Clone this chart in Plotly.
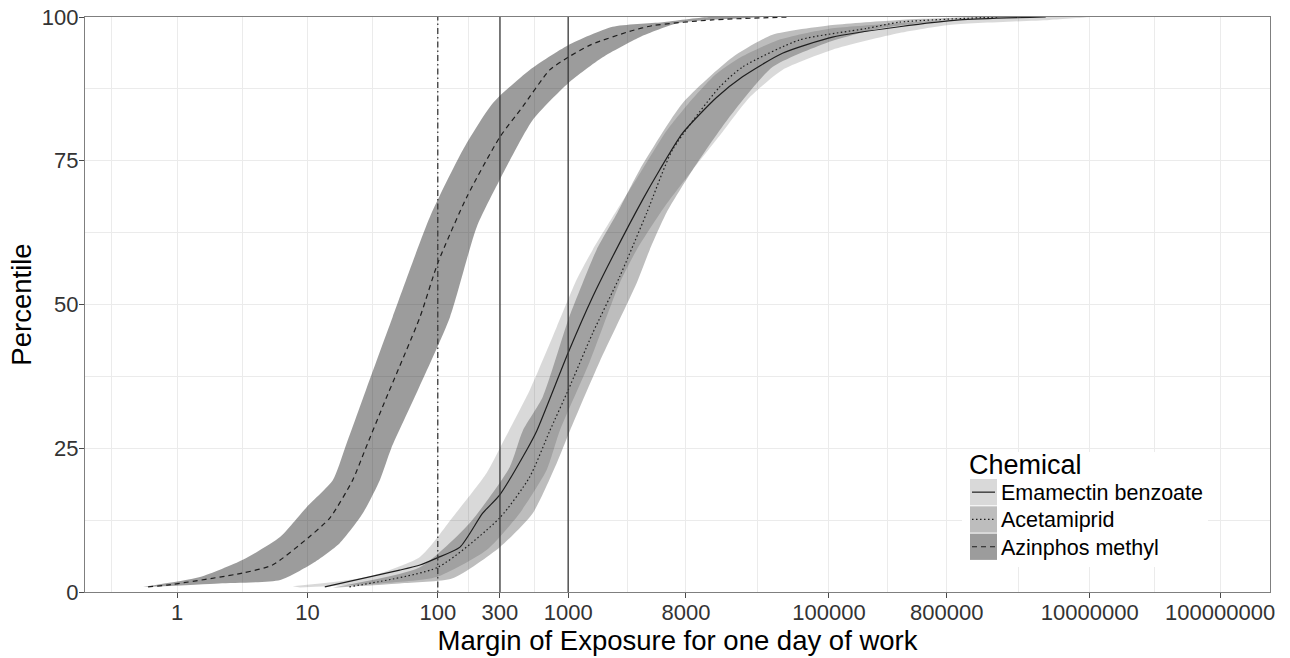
import numpy as np
import plotly.graph_objects as go

# ---------------- data ----------------
chemicals = ["Emamectin benzoate", "Acetamiprid", "Azinphos methyl"]

# Emamectin benzoate: median line and uncertainty band (percentile, margin of exposure)
em_med_pct = [0.9, 3.8, 4.7, 5.9, 7.8, 13.7, 16.9, 24.7, 28, 41.6, 51.3, 58.3, 68.2, 73.4, 79.8, 86, 89.6, 93.7, 96.5, 98.3, 99.5, 100]
em_med_moe = [13.6, 51, 73, 98, 148, 221, 299, 481, 574, 1000, 1540, 2190, 3720, 5030, 7540, 13740, 21730, 44000, 106400, 346800, 1000000, 4600000]
em_lo_pct = [1.0, 2.6, 6.1, 13, 20.7, 26, 35.1, 46.1, 54.3, 59.5, 65.2, 73, 80, 85, 90, 93, 96, 98, 99.5, 100]
em_lo_moe = [7.7, 28.6, 73, 130, 237, 315, 507, 817, 1160, 1540, 2190, 3600, 5600, 8400, 13500, 21000, 41000, 103000, 840000, 2000000]
em_hi_pct = [0.8, 1.5, 2.6, 7.3, 13.7, 21.2, 28, 40, 53.7, 59.5, 67, 73.4, 80, 86, 90.8, 94.3, 97.2, 98.6, 99.5, 100]
em_hi_moe = [8.8, 36, 98, 237, 425, 684, 861, 1460, 2480, 3350, 5490, 9000, 15280, 24600, 44000, 106400, 346800, 837900, 4900000, 10000000]

# Acetamiprid
ac_med_pct = [0.9, 4.3, 12.9, 20, 28, 35.1, 45, 54.8, 65.9, 76.9, 87.8, 91.3, 96, 98, 99.1, 100]
ac_med_moe = [21, 100, 299, 507, 722, 1000, 1540, 2480, 4000, 6320, 14490, 21730, 59400, 193800, 346800, 2000000]
ac_lo_pct = [0.8, 4.3, 12, 21.7, 28, 33.9, 47.3, 53.7, 59.5, 66, 73.4, 85, 93, 96.9, 98.6, 99.5, 100]
ac_lo_moe = [15.7, 73, 176, 356, 448, 638, 1000, 1290, 1650, 2390, 3530, 7540, 18230, 36900, 106400, 346800, 1420000]
ac_hi_pct = [0.8, 1.5, 2.4, 7.8, 13.7, 22.4, 28, 40, 53.7, 59.5, 66, 73.4, 82, 91.3, 95.5, 98, 99.5, 100]
ac_hi_moe = [17, 51, 130, 299, 535, 817, 1030, 1740, 3350, 4220, 5690, 9000, 16500, 36900, 95700, 243800, 837900, 2030000]

# Azinphos methyl
az_med_pct = [0.9, 1.2, 3.3, 4.7, 9.4, 12.9, 19.5, 25, 33, 47.8, 57.2, 68.7, 79.1, 84.4, 90.8, 93, 95.2, 97.5, 98.5, 99.5, 100]
az_med_moe = [0.60, 0.84, 3.2, 5.4, 10.1, 14.9, 22.3, 28, 39, 73, 100, 167, 299, 448, 722, 1000, 1500, 2960, 4440, 12800, 49800]
az_lo_pct = [0.9, 2.6, 5.6, 9.6, 14.8, 19.5, 25, 35, 47.8, 65.2, 76.9, 85, 90.8, 95.1, 98.3, 99.1, 100]
az_lo_moe = [0.55, 1.5, 3.2, 6.2, 9.9, 15.7, 19.4, 28, 45, 87, 156, 264, 507, 1000, 2190, 5300, 12000]
az_hi_pct = [0.9, 1.5, 2.1, 5, 8.5, 13.7, 19.5, 25, 35, 47.8, 63.5, 71.7, 82.1, 88.5, 93, 96.5, 99, 100]
az_hi_moe = [0.62, 2.1, 6.2, 11, 17.7, 26.6, 36, 44, 70, 124, 199, 299, 535, 1000, 1840, 3530, 7150, 30900]

# reference thresholds (vertical lines)
ref_moe = [100, 300, 1000]

# axis ticks
x_tick_vals = [1, 10, 100, 300, 1000, 8000, 100000, 800000, 10000000, 100000000]
x_tick_text = ["1", "10", "100", "300", "1000", "8000", "100000", "800000", "10000000", "100000000"]
y_tick_vals = [0, 25, 50, 75, 100]
y_tick_text = ["0", "25", "50", "75", "100"]

# ---------------- styles ----------------
FONT = "Liberation Sans, Arial, sans-serif"
band_fill = {
    "Emamectin benzoate": "rgba(0,0,0,0.15)",
    "Acetamiprid": "rgba(0,0,0,0.26)",
    "Azinphos methyl": "rgba(0,0,0,0.39)",
}
line_dash = {
    "Emamectin benzoate": "solid",
    "Acetamiprid": "1.5px,2.5px",
    "Azinphos methyl": "5px,4px",
}
ref_dash = {100: "1.5px,3px,6px,3px", 300: "solid", 1000: "solid"}
LINE_COL = "#1e1e1e"

series = {
    "Emamectin benzoate": (em_med_pct, em_med_moe, em_lo_pct, em_lo_moe, em_hi_pct, em_hi_moe),
    "Acetamiprid": (ac_med_pct, ac_med_moe, ac_lo_pct, ac_lo_moe, ac_hi_pct, ac_hi_moe),
    "Azinphos methyl": (az_med_pct, az_med_moe, az_lo_pct, az_lo_moe, az_hi_pct, az_hi_moe),
}

fig = go.Figure()

# ribbons
for name in chemicals:
    mp, mm, lp, lm, hp, hm = series[name]
    fig.add_trace(go.Scatter(
        x=list(lm) + list(hm)[::-1],
        y=list(lp) + list(hp)[::-1],
        mode="lines", fill="toself", fillcolor=band_fill[name],
        line=dict(width=0, color="rgba(0,0,0,0)", shape="spline", smoothing=0.6),
        hoverinfo="skip", showlegend=False, name=name + " band",
    ))

# median lines
for name in chemicals:
    mp, mm, lp, lm, hp, hm = series[name]
    fig.add_trace(go.Scatter(
        x=mm, y=mp, mode="lines",
        line=dict(color=LINE_COL, width=1.2, dash=line_dash[name], shape="spline", smoothing=0.6),
        showlegend=False, name=name,
    ))

# reference vertical lines
for v in ref_moe:
    fig.add_trace(go.Scatter(
        x=[v, v], y=[0, 100], mode="lines",
        line=dict(color="#3a3a3a", width=1.3, dash=ref_dash[v]),
        showlegend=False, hoverinfo="skip",
    ))

# minor grid positions: midpoints (in log space) of major breaks, as ggplot does
lx = np.log10(x_tick_vals)
minor_lx = list((lx[:-1] + lx[1:]) / 2)
minor_lx = [lx[0] - (lx[1] - lx[0]) / 2] + minor_lx
x_minor = [float(10 ** v) for v in minor_lx]
y_minor = [(a + b) / 2 for a, b in zip(y_tick_vals[:-1], y_tick_vals[1:])]

GRID = "#ebebeb"
fig.update_xaxes(
    type="log", range=[-0.7057, 8.383], automargin=False,
    tickmode="array", tickvals=x_tick_vals, ticktext=x_tick_text,
    ticks="outside", ticklen=5, tickwidth=1.2, tickcolor="#4a4a4a",
    ticklabelstandoff=-5,
    tickfont=dict(family=FONT, size=22, color="#333333"),
    showgrid=True, gridcolor=GRID, gridwidth=1.2,
    minor=dict(tickvals=x_minor, showgrid=True, gridcolor=GRID, gridwidth=0.8, ticks=""),
    showline=True, mirror=True, linecolor="#7f7f7f", linewidth=1.3,
    zeroline=False,
    title=dict(text="Margin of Exposure for one day of work",
               font=dict(family=FONT, size=27.5, color="#000000"), standoff=2),
)
fig.update_yaxes(
    range=[0, 100], automargin=False,
    tickmode="array", tickvals=y_tick_vals, ticktext=y_tick_text,
    ticks="outside", ticklen=5, tickwidth=1.2, tickcolor="#4a4a4a",
    ticklabelstandoff=-4,
    tickfont=dict(family=FONT, size=22, color="#333333"),
    showgrid=True, gridcolor=GRID, gridwidth=1.2,
    minor=dict(tickvals=y_minor, showgrid=True, gridcolor=GRID, gridwidth=0.8, ticks=""),
    showline=True, mirror=True, linecolor="#7f7f7f", linewidth=1.3,
    zeroline=False,
    title=dict(text="Percentile", font=dict(family=FONT, size=27.5, color="#000000"), standoff=2),
)

# ---------------- legend (drawn inside the panel, ggplot style) ----------------
L, R, T, B = 85, 1270, 17, 592
def px(x):
    return (x - L) / (R - L)
def py(y):
    return (B - y) / (B - T)

shapes = []
annotations = []
shapes.append(dict(type="rect", xref="paper", yref="paper",
                   x0=px(962), x1=px(1208), y0=py(567), y1=py(452),
                   fillcolor="white", line=dict(width=0), layer="above"))
annotations.append(dict(text="Chemical", xref="paper", yref="paper",
                        x=px(967), y=py(465), xanchor="left", yanchor="middle",
                        showarrow=False, font=dict(family=FONT, size=27, color="#000000")))
key_top = 479
key_h = 27.3
for i, name in enumerate(chemicals):
    y0 = key_top + i * key_h
    y1 = y0 + key_h - 1
    shapes.append(dict(type="rect", xref="paper", yref="paper",
                       x0=px(970), x1=px(997), y0=py(y1), y1=py(y0),
                       fillcolor=band_fill[name], line=dict(width=0), layer="above"))
    yc = (y0 + y1) / 2
    shapes.append(dict(type="line", xref="paper", yref="paper",
                       x0=px(972), x1=px(995), y0=py(yc), y1=py(yc),
                       line=dict(color=LINE_COL, width=1.2, dash=line_dash[name]), layer="above"))
    annotations.append(dict(text=name, xref="paper", yref="paper",
                            x=px(999), y=py(yc + 1), xanchor="left", yanchor="middle",
                            showarrow=False, font=dict(family=FONT, size=21.5, color="#000000")))

fig.update_layout(
    width=1290, height=658,
    margin=dict(l=85, r=20, t=17, b=66),
    paper_bgcolor="white", plot_bgcolor="white",
    showlegend=False,
    shapes=shapes, annotations=annotations,
    font=dict(family=FONT),
)

fig.write_html("out.html")
